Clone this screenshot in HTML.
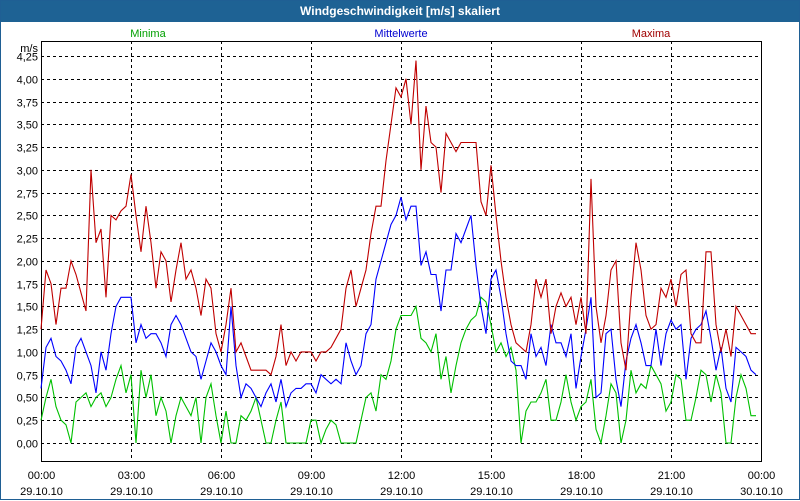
<!DOCTYPE html>
<html><head><meta charset="utf-8"><style>
body{margin:0;background:#fff;}
#wrap{position:relative;width:798px;height:498px;border:1px solid #1f5f94;background:#fff;font-family:"Liberation Sans",sans-serif;}
#title{position:absolute;left:0;top:0;width:798px;height:21px;background:#1e6294;color:#fff;font-weight:bold;font-size:12px;line-height:21px;text-align:center;}
svg{position:absolute;left:0;top:0;}
</style></head><body>
<div id="wrap">
<div id="title">Windgeschwindigkeit [m/s] skaliert</div>
<svg id="chart" width="800" height="500"></svg>
</div>
<script>
const yTicks=[0,0.25,0.5,0.75,1,1.25,1.5,1.75,2,2.25,2.5,2.75,3,3.25,3.5,3.75,4,4.25];
const xTimeLabels=["00:00","03:00","06:00","09:00","12:00","15:00","18:00","21:00","00:00"];
const xDateLabels=["29.10.10","29.10.10","29.10.10","29.10.10","29.10.10","29.10.10","29.10.10","29.10.10","30.10.10"];
const maxima=[1.25,1.9,1.75,1.3,1.7,1.7,2.0,1.85,1.65,1.45,3.0,2.2,2.35,1.6,2.5,2.45,2.55,2.6,2.95,2.5,2.1,2.6,2.2,1.7,2.1,2.0,1.55,1.9,2.2,1.8,1.9,1.7,1.4,1.8,1.7,1.2,1.0,1.3,1.7,1.0,1.1,0.95,0.8,0.8,0.8,0.8,0.75,0.95,1.3,0.85,1.0,0.9,1.0,1.0,1.0,0.9,1.0,1.0,1.05,1.15,1.25,1.7,1.9,1.5,1.7,1.9,2.3,2.6,2.6,3.1,3.5,3.9,3.8,4.0,3.5,4.2,3.0,3.7,3.3,3.25,2.75,3.4,3.3,3.2,3.3,3.3,3.3,3.3,2.65,2.5,3.05,2.5,2.0,1.6,1.3,1.1,1.05,1.0,1.3,1.8,1.6,1.8,1.2,1.5,1.65,1.5,1.6,1.3,1.6,1.2,2.9,1.5,1.1,1.4,1.9,2.0,1.1,0.8,1.6,2.2,1.9,1.4,1.25,1.3,1.7,1.6,1.8,1.5,1.85,1.9,1.2,1.1,1.1,2.1,2.1,1.3,1.0,1.25,0.95,1.5,1.4,1.3,1.2,1.2];
const mittel=[0.6,1.05,1.15,0.95,0.9,0.8,0.65,1.05,1.15,1.0,0.85,0.55,1.0,0.8,1.2,1.5,1.6,1.6,1.6,1.1,1.3,1.15,1.2,1.2,1.1,0.95,1.3,1.4,1.3,1.15,1.0,0.95,0.7,0.9,1.1,1.0,0.85,0.75,1.5,0.85,0.5,0.65,0.6,0.5,0.4,0.55,0.65,0.45,0.7,0.4,0.55,0.6,0.6,0.65,0.65,0.55,0.75,0.7,0.65,0.7,0.65,1.1,0.9,0.75,0.85,1.2,1.3,1.8,2.0,2.2,2.4,2.5,2.7,2.45,2.6,2.6,1.95,2.1,1.85,1.85,1.45,1.9,1.9,2.3,2.2,2.35,2.5,1.95,1.5,1.2,1.8,1.9,1.6,1.2,0.9,0.85,0.85,0.7,1.2,0.95,1.05,0.85,1.3,1.1,1.1,0.95,1.2,0.6,0.95,1.25,1.6,0.5,0.55,1.2,1.25,0.7,0.4,0.9,1.15,1.3,1.1,0.85,0.85,1.25,0.85,1.2,1.35,1.25,1.3,0.7,1.15,1.25,1.3,1.45,1.15,0.8,1.05,0.6,0.45,1.05,1.0,0.95,0.8,0.75];
const minima=[0.25,0.5,0.7,0.4,0.25,0.2,0.0,0.45,0.5,0.55,0.4,0.5,0.55,0.4,0.5,0.7,0.85,0.55,0.75,0.0,0.8,0.5,0.75,0.3,0.5,0.35,0.0,0.3,0.5,0.4,0.3,0.5,0.0,0.5,0.65,0.3,0.0,0.35,0.0,0.0,0.3,0.25,0.35,0.5,0.25,0.0,0.0,0.25,0.45,0.0,0.0,0.0,0.0,0.0,0.25,0.25,0.0,0.15,0.25,0.2,0.0,0.0,0.0,0.0,0.25,0.5,0.55,0.35,0.75,0.7,0.9,1.25,1.4,1.4,1.4,1.5,1.15,1.1,1.0,1.2,0.7,0.95,0.55,0.85,1.1,1.25,1.35,1.4,1.6,1.55,1.3,1.0,1.1,0.95,1.05,0.8,0.0,0.35,0.45,0.45,0.55,0.7,0.25,0.25,0.45,0.75,0.45,0.25,0.4,0.45,0.7,0.15,0.0,0.3,0.65,0.55,0.0,0.25,0.8,0.55,0.65,0.6,0.85,0.75,0.65,0.35,0.45,0.75,0.7,0.25,0.25,0.5,0.8,0.75,0.45,0.75,0.55,0.0,0.0,0.5,0.75,0.6,0.3,0.3];

const svg=document.getElementById('chart');
const NS='http://www.w3.org/2000/svg';
const X0=40,X1=760,Y0=442,YTOP=55,PT=40,PB=460;
const xScale=m=>X0+(X1-X0)*m/1440;
const yScale=v=>Y0-(Y0-YTOP)*v/4.25;
function mk(tag,attrs,parent){const e=document.createElementNS(NS,tag);for(const k in attrs)e.setAttribute(k,attrs[k]);(parent||svg).appendChild(e);return e;}

const grid=mk('g',{});


yTicks.forEach((t,i)=>{
  const y=Math.round(yScale(t))+0.5;
  const l=mk('line',{x1:X0,x2:X1,y1:y,y2:y,stroke:'#000','stroke-dasharray':'3,3','stroke-width':1},grid);
  
  
  const tx=mk('text',{x:37,y:y+4,'text-anchor':'end','font-size':'11','fill':'#000'});
  tx.textContent=t.toFixed(2).replace('.',',');
  
  
});
xTimeLabels.forEach((lab,i)=>{
  const x=Math.round(xScale(i*180))+0.5;
  if(i>0&&i<xTimeLabels.length-1){
    const l=mk('line',{x1:x,x2:x,y1:PT,y2:PB,stroke:'#000','stroke-dasharray':'3,3'},grid);
    
    
  }
  const t1=mk('text',{x:x,y:478,'text-anchor':'middle','font-size':'11'});
  t1.textContent=lab;
  
  
  const t2=mk('text',{x:x,y:494,'text-anchor':'middle','font-size':'11'});
  t2.textContent=xDateLabels[i];
  
  
});
const frame=mk('rect',{x:X0+0.5,y:PT+0.5,width:X1-X0,height:PB-PT,fill:'none',stroke:'#000'});


const unit=mk('text',{x:37,y:51,'text-anchor':'end','font-size':'11'});
unit.textContent='m/s';



function series(arr,color,name){
  const pts=arr.map((v,i)=>xScale(i*10).toFixed(1)+','+yScale(v).toFixed(1)).join(' ');
  const p=mk('polyline',{points:pts,fill:'none',stroke:color,'stroke-width':1.1});
  
  
}
series(minima,'#00c000','series-minima');
series(mittel,'#0000ff','series-mittelwerte');
series(maxima,'#c00000','series-maxima');

[['Minima',147,'#00a000','legend-minima'],['Mittelwerte',400,'#0000d0','legend-mittelwerte'],['Maxima',650,'#a00000','legend-maxima']].forEach(a=>{
  const t=mk('text',{x:a[1],y:36,'text-anchor':'middle','font-size':'11',fill:a[2]});
  t.textContent=a[0];
  
  
});
</script>
</body></html>
